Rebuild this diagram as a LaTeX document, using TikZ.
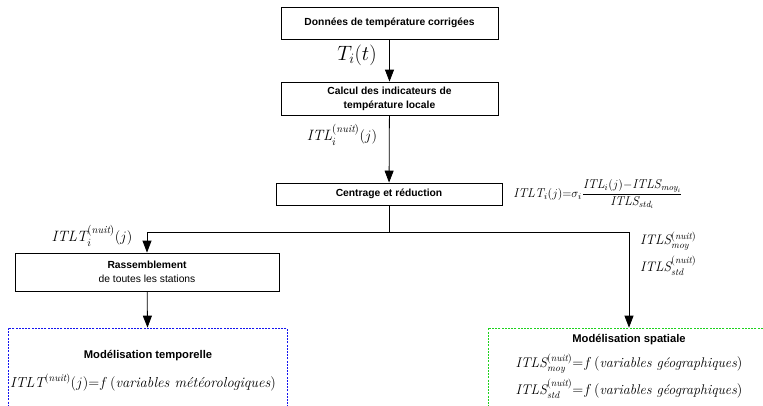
\documentclass[tikz,border=0pt]{standalone}
\usepackage{amsmath}
\usepackage{fontspec}
\setsansfont{Liberation Sans}
\usetikzlibrary{arrows.meta}
\definecolor{zblue}{RGB}{20,20,240}
\definecolor{zgreen}{RGB}{30,210,30}
\begin{document}
\begin{tikzpicture}[x=1pt,y=-1pt,
  box/.style={draw,line width=0.8pt,inner sep=0pt,font=\sffamily\bfseries\fontsize{10.3}{14}\selectfont,align=center},
  arr/.style={line width=0.8pt,-{Triangle[length=12pt,width=9pt]}},
  ln/.style={line width=0.8pt},
  zone/.style={draw,dash pattern=on 2pt off 1.2pt,line width=0.7pt,inner sep=0pt},
  lab/.style={inner sep=0pt},
  ztitle/.style={inner sep=0pt,font=\sffamily\bfseries\fontsize{11.2}{13}\selectfont}]
\clip (0,0) rectangle (763,405);
\node[box,minimum width=217pt,minimum height=32pt] (b1) at (389.5,23) {Données de température corrigées};
\node[box,minimum width=217pt,minimum height=33pt] (b2) at (389.5,98.5) {Calcul des indicateurs de\\température locale};
\node[box,minimum width=226pt,minimum height=22pt] (b3) at (389,194) {Centrage et réduction};
\node[box,minimum width=264pt,minimum height=38pt] (b4) at (147,272) {Rassemblement\\\mdseries de toutes les stations};
\node[zone,draw=zblue,minimum width=279pt,minimum height=82pt] (temp) at (147.5,369) {};
\node[zone,draw=zgreen,minimum width=282pt,minimum height=82pt] (spat) at (629,369) {};
\coordinate (jc) at (389,232);
\coordinate (jl) at (147,232);
\coordinate (jr) at (629,232);
\draw[arr] (b1) -- (b2);
\draw[arr] (b2) -- (b3);
\draw[ln] (b3.south) -- (jc);
\draw[arr] (jr) -- (jl) -- (b4.north);
\draw[arr] (jr) -- (spat.north);
\draw[arr] (b4) -- (temp.north);
% labels
\node[lab,font=\fontsize{19.5}{22}\selectfont] (lT) at (357,55) {$T_i(t)$};
\node[lab,font=\fontsize{15}{17}\selectfont] (lITL) at (342,135) {$\mathit{ITL}_i^{(\mathit{nuit})}(j)$};
\node[lab,font=\fontsize{12.8}{15}\selectfont] (lF) at (598,194) {$\mathit{ITLT}_i(j){=}\sigma_i\dfrac{\mathit{ITL}_i(j){-}\mathit{ITLS}_{\mathit{moy}_i}}{\mathit{ITLS}_{\mathit{std}_i}}$};
\node[lab,font=\fontsize{15}{17}\selectfont] (lITLT) at (92,236) {$\mathit{ITLT}_i^{(\mathit{nuit})}(j)$};
\node[lab,font=\fontsize{13.8}{15}\selectfont,anchor=west] (lS1) at (640,241) {$\mathit{ITLS}_{\mathit{moy}}^{(\mathit{nuit})}$};
\node[lab,font=\fontsize{13.8}{15}\selectfont,anchor=west] (lS2) at (640,266) {$\mathit{ITLS}_{\mathit{std}}^{(\mathit{nuit})}$};
\node[ztitle] (tt) at (148,356) {Modélisation temporelle};
\node[lab,font=\fontsize{14.5}{16}\selectfont] (tf) at (143,383) {$\mathit{ITLT}^{(\mathit{nuit})}(j){=}f\,(\text{\itshape variables météorologiques})$};
\node[ztitle] (st) at (629,340) {Modélisation spatiale};
\node[lab,font=\fontsize{14}{16}\selectfont] (sf1) at (629,364) {$\mathit{ITLS}_{\mathit{moy}}^{(\mathit{nuit})}{=}f\,(\text{\itshape variables géographiques})$};
\node[lab,font=\fontsize{14}{16}\selectfont] (sf2) at (629,389) {$\mathit{ITLS}_{\mathit{std}}^{(\mathit{nuit})}{=}f\,(\text{\itshape variables géographiques})$};
\end{tikzpicture}
\end{document}
